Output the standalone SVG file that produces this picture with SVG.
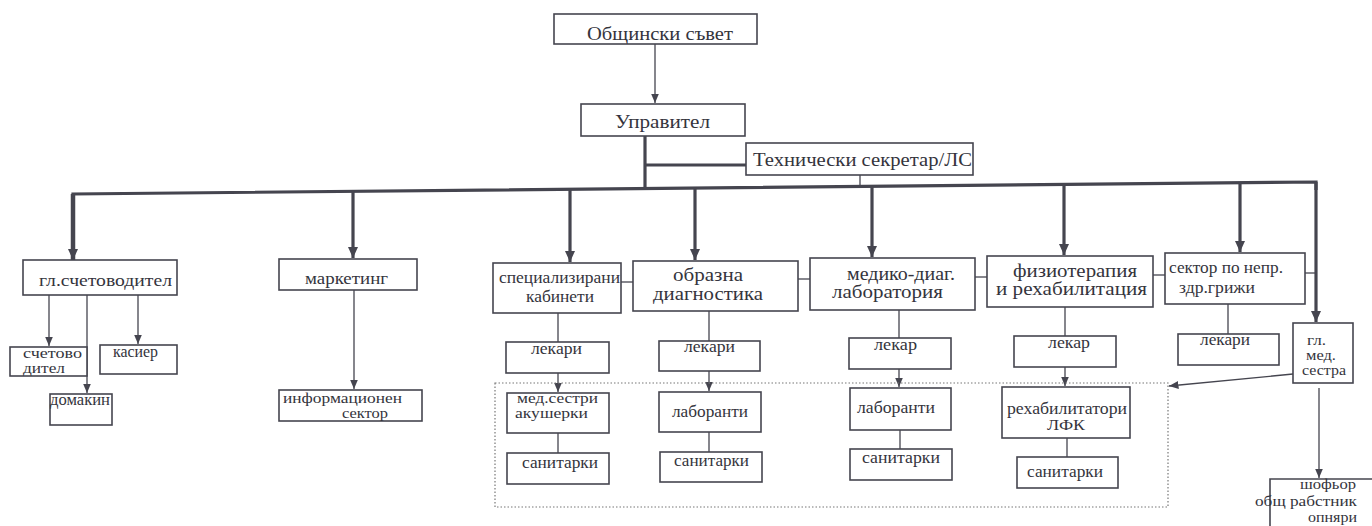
<svg xmlns="http://www.w3.org/2000/svg" width="1372" height="526" viewBox="0 0 1372 526">
<style>
.bx{fill:#fff;stroke:#45454f;stroke-width:1.6}
.t{font-family:"Liberation Serif","DejaVu Serif",serif;font-size:16px;fill:#34343c}
.tl{font-size:18px}
.tm{font-size:18px}
.ts{font-size:14.5px}
.th{fill:none;stroke:#45454f;stroke-width:1.3}
.tk{fill:none;stroke:#45454f;stroke-width:3.2}
.dot{fill:none;stroke:#777;stroke-width:1.2;stroke-dasharray:1.5 2}
</style>
<defs>
<marker id="ah" markerUnits="userSpaceOnUse" markerWidth="12" markerHeight="12" viewBox="0 0 12 12" refX="11" refY="6" orient="auto">
<path d="M0,1 L11,6 L0,11 Z" fill="#45454f"/>
</marker>
<marker id="as" markerUnits="userSpaceOnUse" markerWidth="10" markerHeight="10" viewBox="0 0 10 10" refX="9.5" refY="5" orient="auto">
<path d="M0,1 L9.5,5 L0,9 Z" fill="#45454f"/>
</marker>
</defs>
<rect width="1372" height="526" fill="#fff"/>

<g id="connectors">
<line class="th" x1="655" y1="44" x2="655" y2="103" marker-end="url(#as)"/>
<line class="tk" x1="645" y1="136" x2="645" y2="189"/>
<line class="tk" x1="645" y1="165" x2="746" y2="165"/>
<line class="th" x1="860" y1="175" x2="860" y2="186"/>
<polyline class="tk" points="73,200 73,194 1316,182 1316,190"/>
<line class="tk" x1="73" y1="194" x2="73" y2="260" style="stroke-width:4.5" marker-end="url(#ah)"/>
<line class="tk" x1="353" y1="191" x2="353" y2="258" marker-end="url(#ah)"/>
<line class="tk" x1="570" y1="189" x2="570" y2="262" marker-end="url(#ah)"/>
<line class="tk" x1="695" y1="188" x2="695" y2="260" marker-end="url(#ah)"/>
<line class="tk" x1="872" y1="186" x2="872" y2="257" marker-end="url(#ah)"/>
<line class="tk" x1="1064" y1="184" x2="1064" y2="255" marker-end="url(#ah)"/>
<line class="tk" x1="1240" y1="183" x2="1240" y2="252" marker-end="url(#ah)"/>
<line class="tk" x1="1316" y1="182" x2="1316" y2="322" marker-end="url(#ah)"/>
<line class="th" x1="621" y1="282" x2="633" y2="282"/>
<line class="th" x1="798" y1="279" x2="810" y2="279"/>
<line class="th" x1="975" y1="277" x2="987" y2="277"/>
<line class="th" x1="1153" y1="275" x2="1165" y2="275"/>
<line class="th" x1="1305" y1="273" x2="1316" y2="273"/>
<line class="th" x1="49" y1="295" x2="49" y2="346" marker-end="url(#as)"/>
<line class="th" x1="87" y1="295" x2="87" y2="393" marker-end="url(#as)"/>
<line class="th" x1="138" y1="295" x2="138" y2="344" marker-end="url(#as)"/>
<line class="th" x1="354" y1="290" x2="354" y2="389" marker-end="url(#as)"/>
<line class="th" x1="558" y1="313" x2="558" y2="342"/>
<line class="th" x1="558" y1="373" x2="558" y2="392" marker-end="url(#as)"/>
<line class="th" x1="558" y1="433" x2="558" y2="453"/>
<line class="th" x1="709" y1="311" x2="709" y2="341"/>
<line class="th" x1="709" y1="371" x2="709" y2="391" marker-end="url(#as)"/>
<line class="th" x1="709" y1="432" x2="709" y2="452"/>
<line class="th" x1="899" y1="310" x2="899" y2="338"/>
<line class="th" x1="899" y1="369" x2="899" y2="387" marker-end="url(#as)"/>
<line class="th" x1="900" y1="430" x2="900" y2="449"/>
<line class="th" x1="1065" y1="307" x2="1065" y2="336"/>
<line class="th" x1="1065" y1="367" x2="1065" y2="386" marker-end="url(#as)"/>
<line class="th" x1="1067" y1="438" x2="1067" y2="457"/>
<line class="th" x1="1228" y1="304" x2="1228" y2="334"/>
<line class="th" x1="1293" y1="374" x2="1169" y2="386" marker-end="url(#as)"/>
<line class="th" x1="1319" y1="388" x2="1319" y2="478" marker-end="url(#as)"/>
</g>

<rect id="group-frame" class="dot" x="495" y="383" width="673" height="124"/>

<g id="n-obshtinski"><rect class="bx" x="554" y="14" width="203" height="30"/><text class="t tl" x="587" y="40" textLength="146" lengthAdjust="spacingAndGlyphs">Общински съвет</text></g>
<g id="n-upravitel"><rect class="bx" x="581" y="104" width="164" height="32"/><text class="t tl" x="615" y="128" textLength="95" lengthAdjust="spacingAndGlyphs">Управител</text></g>
<g id="n-tech"><rect class="bx" x="746" y="143" width="227" height="32"/><text class="t tl" x="753" y="166" textLength="219" lengthAdjust="spacingAndGlyphs">Технически секретар/ЛС</text></g>

<g id="n-glschet"><rect class="bx" x="23" y="260" width="154" height="35"/><text class="t" x="39" y="286" textLength="133" lengthAdjust="spacingAndGlyphs">гл.счетоводител</text></g>
<g id="n-schetovoditel"><rect class="bx" x="10" y="347" width="77" height="29"/><text class="t ts" x="23" y="358" textLength="59" lengthAdjust="spacingAndGlyphs">счетово</text><text class="t ts" x="23" y="373" textLength="42" lengthAdjust="spacingAndGlyphs">дител</text></g>
<g id="n-kasier"><rect class="bx" x="100" y="345" width="77" height="29"/><text class="t" x="113" y="357" textLength="45" lengthAdjust="spacingAndGlyphs">касиер</text></g>
<g id="n-domakin"><rect class="bx" x="50" y="394" width="62" height="31"/><text class="t" x="50" y="405" textLength="60" lengthAdjust="spacingAndGlyphs">домакин</text></g>

<g id="n-marketing"><rect class="bx" x="279" y="259" width="138" height="31"/><text class="t" x="305" y="284" textLength="83" lengthAdjust="spacingAndGlyphs">маркетинг</text></g>
<g id="n-info"><rect class="bx" x="279" y="390" width="143" height="31"/><text class="t ts" x="283" y="403" textLength="119" lengthAdjust="spacingAndGlyphs">информационен</text><text class="t ts" x="342" y="418" textLength="46" lengthAdjust="spacingAndGlyphs">сектор</text></g>

<g id="n-spec"><rect class="bx" x="493" y="263" width="128" height="50"/><text class="t" x="499" y="283" textLength="121" lengthAdjust="spacingAndGlyphs">специализирани</text><text class="t" x="526" y="302" textLength="68" lengthAdjust="spacingAndGlyphs">кабинети</text></g>
<g id="n-spec-lekari"><rect class="bx" x="506" y="342" width="103" height="31"/><text class="t" x="531" y="354" textLength="51" lengthAdjust="spacingAndGlyphs">лекари</text></g>
<g id="n-medsestri"><rect class="bx" x="507" y="393" width="102" height="40"/><text class="t ts" x="517" y="403" textLength="81" lengthAdjust="spacingAndGlyphs">мед.сестри</text><text class="t ts" x="515" y="418" textLength="73" lengthAdjust="spacingAndGlyphs">акушерки</text></g>
<g id="n-spec-sanit"><rect class="bx" x="507" y="453" width="102" height="31"/><text class="t" x="522" y="468" textLength="76" lengthAdjust="spacingAndGlyphs">санитарки</text></g>

<g id="n-obrazna"><rect class="bx" x="633" y="261" width="165" height="50"/><text class="t tm" x="673" y="281" textLength="70" lengthAdjust="spacingAndGlyphs">образна</text><text class="t tm" x="653" y="300" textLength="110" lengthAdjust="spacingAndGlyphs">диагностика</text></g>
<g id="n-obr-lekari"><rect class="bx" x="659" y="341" width="101" height="30"/><text class="t" x="684" y="352" textLength="51" lengthAdjust="spacingAndGlyphs">лекари</text></g>
<g id="n-obr-labor"><rect class="bx" x="659" y="392" width="102" height="40"/><text class="t" x="672" y="417" textLength="76" lengthAdjust="spacingAndGlyphs">лаборанти</text></g>
<g id="n-obr-sanit"><rect class="bx" x="660" y="452" width="102" height="30"/><text class="t" x="674" y="466" textLength="75" lengthAdjust="spacingAndGlyphs">санитарки</text></g>

<g id="n-mediko"><rect class="bx" x="810" y="258" width="165" height="52"/><text class="t tm" x="847" y="280" textLength="108" lengthAdjust="spacingAndGlyphs">медико-диаг.</text><text class="t tm" x="832" y="298" textLength="111" lengthAdjust="spacingAndGlyphs">лаборатория</text></g>
<g id="n-med-lekar"><rect class="bx" x="849" y="338" width="102" height="31"/><text class="t" x="874" y="350" textLength="43" lengthAdjust="spacingAndGlyphs">лекар</text></g>
<g id="n-med-labor"><rect class="bx" x="850" y="388" width="101" height="42"/><text class="t" x="857" y="413" textLength="78" lengthAdjust="spacingAndGlyphs">лаборанти</text></g>
<g id="n-med-sanit"><rect class="bx" x="850" y="449" width="102" height="31"/><text class="t" x="862" y="463" textLength="78" lengthAdjust="spacingAndGlyphs">санитарки</text></g>

<g id="n-fizio"><rect class="bx" x="987" y="256" width="166" height="51"/><text class="t tm" x="1013" y="277" textLength="124" lengthAdjust="spacingAndGlyphs">физиотерапия</text><text class="t tm" x="996" y="295" textLength="151" lengthAdjust="spacingAndGlyphs">и рехабилитация</text></g>
<g id="n-fiz-lekar"><rect class="bx" x="1014" y="336" width="102" height="31"/><text class="t" x="1048" y="348" textLength="42" lengthAdjust="spacingAndGlyphs">лекар</text></g>
<g id="n-rehab"><rect class="bx" x="1002" y="387" width="128" height="51"/><text class="t" x="1007" y="414" textLength="120" lengthAdjust="spacingAndGlyphs">рехабилитатори</text><text class="t ts" x="1047" y="430" textLength="38" lengthAdjust="spacingAndGlyphs">ЛФК</text></g>
<g id="n-fiz-sanit"><rect class="bx" x="1017" y="457" width="101" height="31"/><text class="t" x="1027" y="477" textLength="76" lengthAdjust="spacingAndGlyphs">санитарки</text></g>

<g id="n-sector"><rect class="bx" x="1165" y="253" width="140" height="51"/><text class="t" x="1169" y="273" textLength="114" lengthAdjust="spacingAndGlyphs">сектор по непр.</text><text class="t" x="1179" y="293" textLength="76" lengthAdjust="spacingAndGlyphs">здр.грижи</text></g>
<g id="n-sec-lekari"><rect class="bx" x="1178" y="334" width="101" height="31"/><text class="t" x="1200" y="345" textLength="50" lengthAdjust="spacingAndGlyphs">лекари</text></g>

<g id="n-glmed"><rect class="bx" x="1293" y="323" width="60" height="60"/><text class="t ts" x="1307" y="345" textLength="19" lengthAdjust="spacingAndGlyphs">гл.</text><text class="t ts" x="1306" y="360" textLength="30" lengthAdjust="spacingAndGlyphs">мед.</text><text class="t ts" x="1302" y="375" textLength="44" lengthAdjust="spacingAndGlyphs">сестра</text></g>

<g id="n-shofior"><path class="bx" d="M1270,530 L1270,479 L1376,479"/><text class="t ts" x="1300" y="489" textLength="56" lengthAdjust="spacingAndGlyphs">шофьор</text><text class="t ts" x="1255" y="506" textLength="102" lengthAdjust="spacingAndGlyphs">общ рабстник</text><text class="t ts" x="1308" y="522" textLength="49" lengthAdjust="spacingAndGlyphs">опняри</text></g>
</svg>
